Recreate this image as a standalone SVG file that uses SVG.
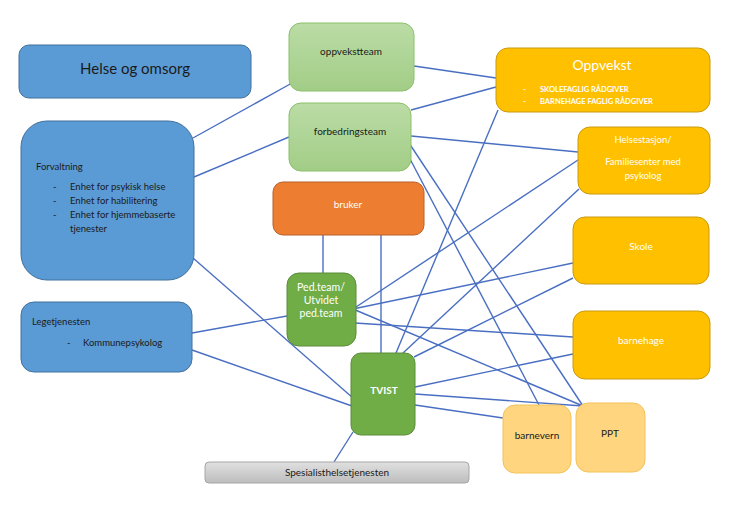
<svg xmlns="http://www.w3.org/2000/svg" width="741" height="517" viewBox="0 0 741 517">
<defs>
<linearGradient id="gLight" x1="0" y1="0" x2="0" y2="1"><stop offset="0" stop-color="#BBDCA6"/><stop offset="1" stop-color="#A2CD86"/></linearGradient>
<linearGradient id="gGray" x1="0" y1="0" x2="0" y2="1"><stop offset="0" stop-color="#E0E0E0"/><stop offset="1" stop-color="#BDBDBD"/></linearGradient>
</defs>
<style>
text{font-family:"Lato","Liberation Sans",sans-serif;}
.blue{fill:#5B9BD5;stroke:#41719C;stroke-width:1}
.lg{fill:url(#gLight);stroke:#8CC06A;stroke-width:1}
.org{fill:#ED7D31;stroke:#B8612A;stroke-width:1}
.grn{fill:#70AD47;stroke:#5A8C39;stroke-width:1}
.yel{fill:#FFC000;stroke:#C99A10;stroke-width:1}
.lyel{fill:#FFD57F;stroke:#F2C35A;stroke-width:1}
.gray{fill:url(#gGray);stroke:#A6A6A6;stroke-width:1}
.dk{fill:#1a1a1a}
.wt{fill:#ffffff}
.c{text-anchor:middle}
#connectors line{stroke:#4A6FC2;stroke-width:1.4;fill:none}
</style>
<rect width="741" height="517" fill="#ffffff"/>
<g id="connectors">
<line x1="193" y1="138" x2="292" y2="83"/>
<line x1="194" y1="177" x2="289" y2="137"/>
<line x1="193" y1="258" x2="353" y2="398"/>
<line x1="192" y1="333" x2="287" y2="316"/>
<line x1="192" y1="350" x2="352" y2="406"/>
<line x1="323" y1="235" x2="323" y2="273"/>
<line x1="381" y1="235" x2="381" y2="353"/>
<line x1="414" y1="66" x2="496" y2="78"/>
<line x1="411" y1="110" x2="496" y2="87"/>
<line x1="411" y1="136" x2="578" y2="152"/>
<line x1="409" y1="143" x2="583" y2="406"/>
<line x1="409" y1="157" x2="539" y2="405"/>
<line x1="498" y1="110" x2="396" y2="353"/>
<line x1="578" y1="160" x2="353" y2="309"/>
<line x1="579" y1="189" x2="403" y2="353"/>
<line x1="573" y1="263" x2="353" y2="309"/>
<line x1="573" y1="278" x2="414" y2="357"/>
<line x1="573" y1="337" x2="355" y2="323"/>
<line x1="573" y1="354" x2="415" y2="387"/>
<line x1="353" y1="309" x2="583" y2="406"/>
<line x1="415" y1="394" x2="583" y2="406"/>
<line x1="415" y1="405" x2="503" y2="418"/>
<line x1="353" y1="432" x2="334" y2="462"/>
</g>
<g id="helse-og-omsorg">
<rect class="blue" x="19" y="45" width="232" height="53" rx="10"/>
<text class="dk c" x="135" y="74" font-size="15">Helse og omsorg</text>
</g>
<g id="forvaltning">
<rect class="blue" x="21" y="121" width="173" height="159" rx="26"/>
<text class="dk" x="36" y="170" font-size="9.5">Forvaltning</text>
<text class="dk" font-size="9.5"><tspan x="53" y="190">-</tspan><tspan x="70" y="190">Enhet for psykisk helse</tspan><tspan x="53" y="204">-</tspan><tspan x="70" y="204">Enhet for habilitering</tspan><tspan x="53" y="218">-</tspan><tspan x="70" y="218">Enhet for hjemmebaserte</tspan><tspan x="70" y="232">tjenester</tspan></text>
</g>
<g id="legetjenesten">
<rect class="blue" x="21" y="302" width="171" height="70" rx="13"/>
<text class="dk" x="32" y="325" font-size="9.5">Legetjenesten</text>
<text class="dk" font-size="9.5"><tspan x="67" y="346">-</tspan><tspan x="83" y="346">Kommunepsykolog</tspan></text>
</g>
<g id="oppvekstteam">
<rect class="lg" x="289" y="23" width="125" height="68" rx="12"/>
<text class="dk c" x="351" y="55" font-size="10">oppvekstteam</text>
</g>
<g id="forbedringsteam">
<rect class="lg" x="289" y="103" width="122" height="68" rx="12"/>
<text class="dk c" x="350" y="135" font-size="10">forbedringsteam</text>
</g>
<g id="bruker">
<rect class="org" x="273" y="182" width="151" height="53" rx="10"/>
<text class="wt c" x="348" y="208" font-size="10">bruker</text>
</g>
<g id="pedteam">
<rect class="grn" x="287" y="273" width="69" height="73" rx="12"/>
<text class="wt c" font-size="10.5"><tspan x="321" y="291">Ped.team/</tspan><tspan x="321" y="304">Utvidet</tspan><tspan x="321" y="317">ped.team</tspan></text>
</g>
<g id="tvist">
<rect class="grn" x="351" y="353" width="64" height="82" rx="10"/>
<text class="wt c" x="384" y="394" font-size="10" font-weight="bold">TVIST</text>
</g>
<g id="spesialisthelsetjenesten">
<rect class="gray" x="205" y="462" width="264" height="21" rx="4"/>
<text class="dk c" x="337" y="476" font-size="10">Spesialisthelsetjenesten</text>
</g>
<g id="oppvekst">
<rect class="yel" x="496" y="48" width="214" height="64" rx="12"/>
<text class="wt c" x="602" y="70" font-size="14">Oppvekst</text>
<text class="wt" font-size="7.5" font-weight="bold"><tspan x="523" y="92">-</tspan><tspan x="540" y="92">SKOLEFAGLIG RÅDGIVER</tspan><tspan x="523" y="104">-</tspan><tspan x="540" y="104">BARNEHAGE FAGLIG RÅDGIVER</tspan></text>
</g>
<g id="helsestasjon">
<rect class="yel" x="578" y="127" width="132" height="67" rx="12"/>
<text class="wt c" font-size="9.5"><tspan x="643" y="143">Helsestasjon/</tspan><tspan x="643" y="165">Familiesenter med</tspan><tspan x="643" y="179">psykolog</tspan></text>
</g>
<g id="skole">
<rect class="yel" x="573" y="217" width="136" height="67" rx="12"/>
<text class="wt c" x="641" y="250" font-size="10">Skole</text>
</g>
<g id="barnehage">
<rect class="yel" x="573" y="311" width="137" height="68" rx="12"/>
<text class="wt c" x="641" y="344" font-size="10">barnehage</text>
</g>
<g id="barnevern">
<rect class="lyel" x="503" y="405" width="68" height="68" rx="12"/>
<text class="dk c" x="537" y="439" font-size="10">barnevern</text>
</g>
<g id="ppt">
<rect class="lyel" x="576" y="403" width="69" height="69" rx="12"/>
<text class="dk c" x="610" y="437" font-size="10">PPT</text>
</g>
</svg>
